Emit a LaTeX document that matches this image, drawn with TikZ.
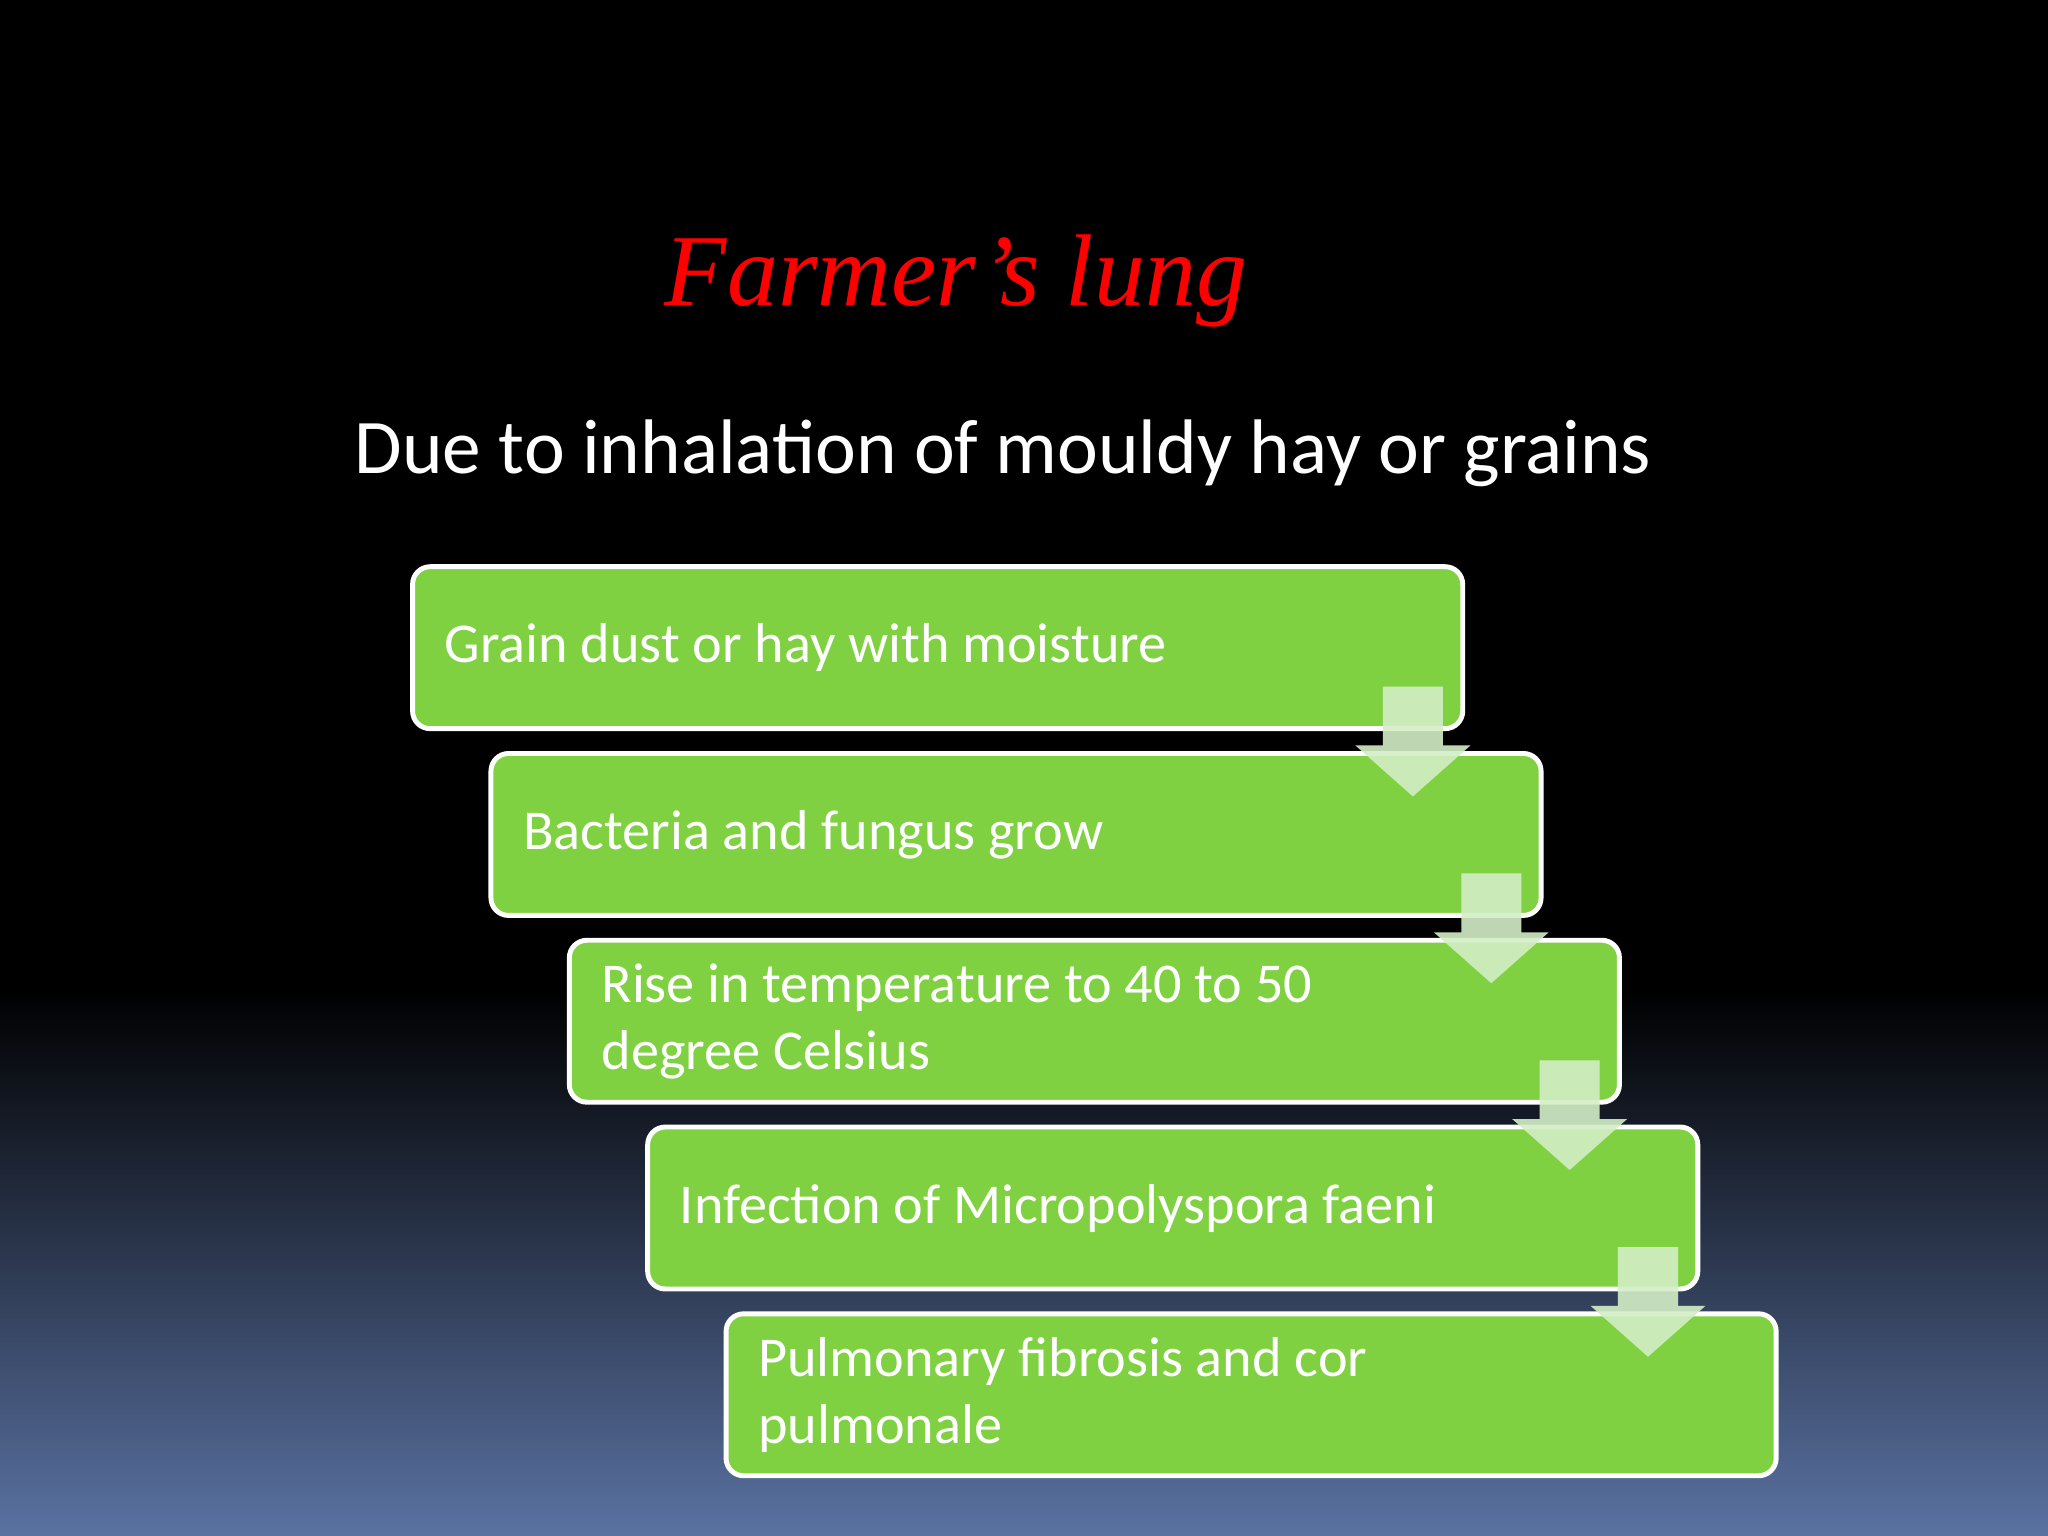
\documentclass[tikz,border=0pt]{standalone}
\usepackage{fontspec}
\setmainfont{Carlito}
\newfontfamily\titlefont{Liberation Serif}
\begin{document}
\begin{tikzpicture}[x=0.013061cm,y=-0.013061cm,
  stepbox/.style={draw=white,line width=1.4pt,fill=boxgreen,rounded corners=5pt,minimum width=804*0.013061cm,minimum height=124*0.013061cm,anchor=north west,inner sep=0pt},
  btxt/.style={text=white,font=\fontsize{16}{19}\selectfont,anchor=west,align=left}]
\definecolor{boxgreen}{HTML}{80D141}
\definecolor{arrowgreen}{HTML}{D3EEC6}
\definecolor{botblue}{HTML}{5A72A2}
\useasboundingbox (0,0) rectangle (1568,1176);
\fill[black] (0,0) rectangle (1568,760);
\shade[top color=black,bottom color=botblue] (0,759) rectangle (1568,1176);
\node (title) at (732,215) {\titlefont\itshape\fontsize{29}{34}\selectfont\color{red}Farmer’s lung};
\node (sub) at (768,347) {\color{white}\fontsize{22}{26}\selectfont Due to inhalation of mouldy hay or grains};
\foreach \i/\t in {1/{Grain dust or hay with moisture},2/{Bacteria and fungus grow},3/{Rise in temperature to 40 to 50\\degree Celsius},4/{Infection of Micropolyspora faeni},5/{Pulmonary fibrosis and cor\\pulmonale}}{
  \node[stepbox] (b\i) at ({314+60*(\i-1)},{432+143*(\i-1)}) {};
  \node[btxt] (t\i) at ([xshift=17*0.013061cm]b\i.west) {\t};
}
\foreach \i in {1,2,3,4}{
  \fill[arrowgreen,opacity=0.9] ([xshift={-63*0.013061cm},yshift={34*0.013061cm}]b\i.south east) coordinate (a\i)
    -- ++(46,0) -- ++(0,45) -- ++(21,0) -- ++(-44,39) -- ++(-44,-39) -- ++(21,0) -- cycle;
}
\end{tikzpicture}
\end{document}
